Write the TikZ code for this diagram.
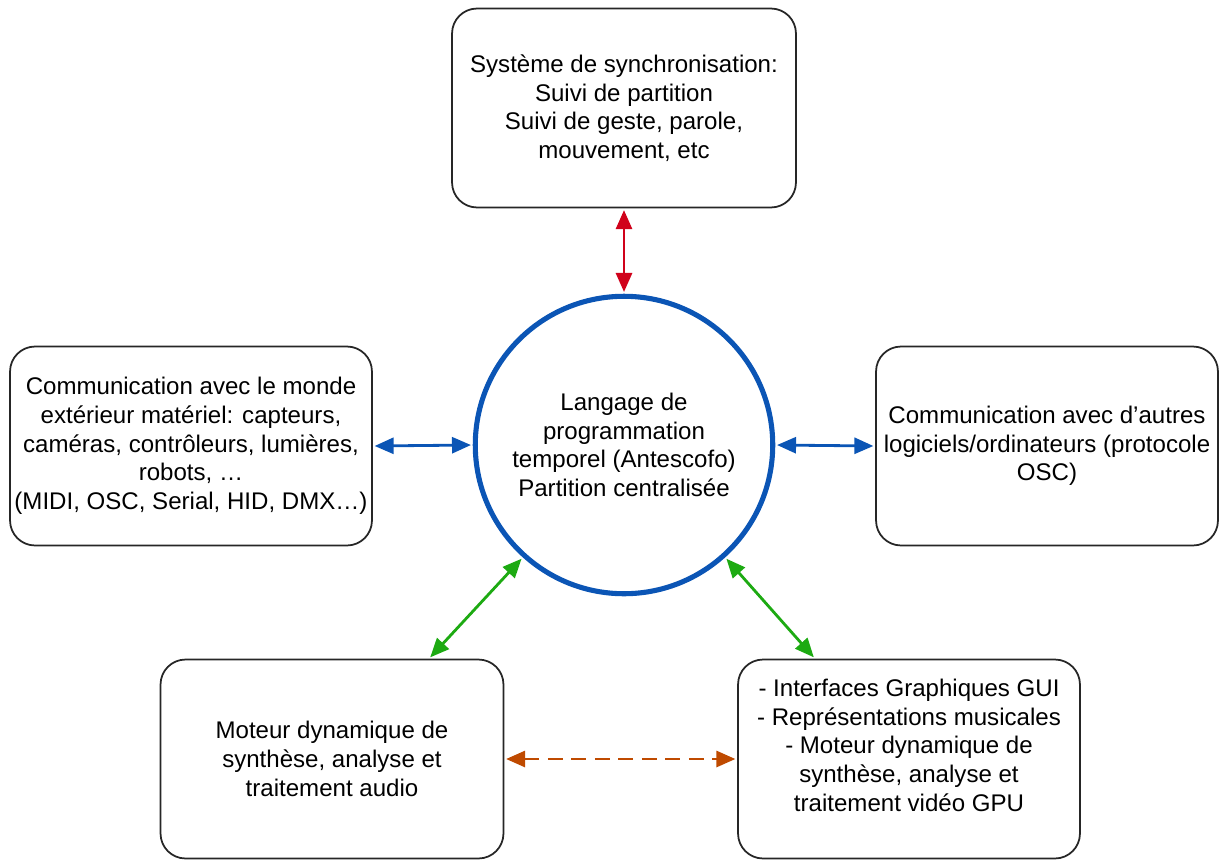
\documentclass[tikz,border=0pt]{standalone}
\usepackage{fontspec}
\setmainfont{Liberation Sans}
\usepackage{tikz}
\usetikzlibrary{arrows.meta,calc}
\definecolor{SyncRed}{HTML}{D0021B}
\definecolor{LinkBlue}{HTML}{0B55B5}
\definecolor{EngineGreen}{HTML}{1DAA12}
\definecolor{MediaOrange}{HTML}{BF4A00}
\definecolor{BoxGray}{HTML}{262626}

\begin{document}
\begin{tikzpicture}[
  x=0.02cm, y=-0.02cm,
  font=\fontsize{13.7}{16.3}\selectfont,
  >={Triangle[length=0.38cm,width=0.32cm]},
  module/.style={
    draw=BoxGray,
    line width=1pt,
    rounded corners=0.5cm,
    align=center,
    inner sep=0pt,
    minimum width=#1,
    minimum height=3.98cm
  },
  module/.default=6.86cm,
  core/.style={
    circle,
    draw=LinkBlue,
    line width=2.9pt,
    minimum size=5.95cm,
    align=center,
    inner sep=0pt
  },
  link/.style={<->,line width=1.6pt,shorten <=1pt,shorten >=1pt}
]
\useasboundingbox (0,0) rectangle (1220,859);

\node[core] (core) at (624,445)
  {Langage de\\programmation\\temporel (Antescofo)\\Partition centralisée};

\node[module=6.88cm] (sync) at (624,108)
  {Système de synchronisation:\\Suivi de partition\\Suivi de geste, parole,\\mouvement, etc};
\node[module=7.24cm] (world) at (191,446)
  {Communication avec le monde\\extérieur matériel: capteurs,\\caméras, contrôleurs, lumières,\\robots, …\\(MIDI, OSC, Serial, HID, DMX…)};
\node[module=6.84cm] (osc) at (1047,446)
  {Communication avec d’autres\\logiciels/ordinateurs (protocole\\OSC)};
\node[module=6.86cm] (audio) at (332,759)
  {Moteur dynamique de\\synthèse, analyse et\\traitement audio};
\node[module=6.84cm] (video) at (909,759)
  {- Interfaces Graphiques GUI\\- Représentations musicales\\- Moteur dynamique de\\synthèse, analyse et\\traitement vidéo GPU\rule[-0.56cm]{0pt}{0pt}};

\draw[link,SyncRed] (sync.south) -- (core.north);
\draw[link,LinkBlue] (world.east) -- (core.west);
\draw[link,LinkBlue] (core.east) -- (osc.west);
\draw[link,EngineGreen] (core.228) -- ($(audio.north)+(97,0)$);
\draw[link,EngineGreen] (core.312) -- ($(video.north)+(-94,0)$);
\draw[link,MediaOrange,dash pattern=on 0.30cm off 0.17cm] (audio.east) -- (video.east -| video.west);
\end{tikzpicture}
\end{document}
